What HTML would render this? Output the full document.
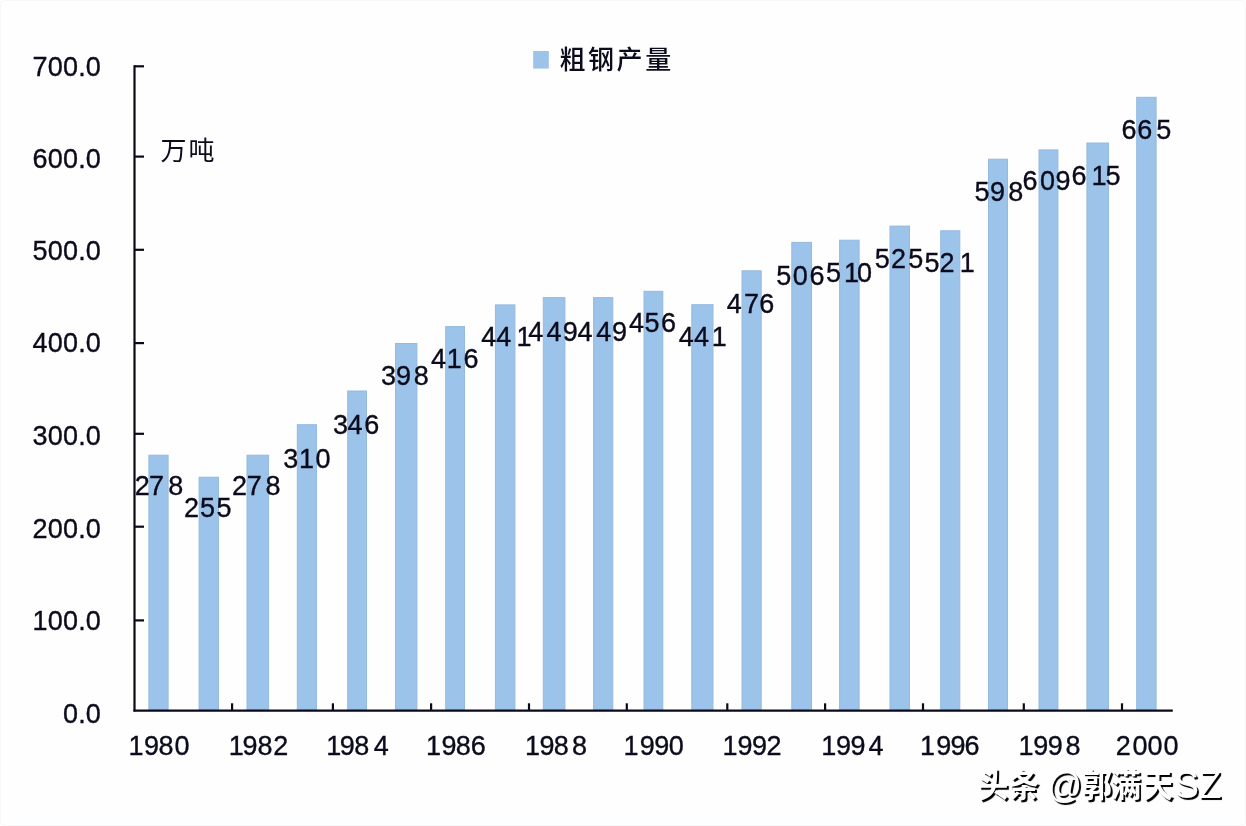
<!DOCTYPE html>
<html lang="zh-CN">
<head>
<meta charset="utf-8">
<title>粗钢产量</title>
<style>
html,body{margin:0;padding:0;background:#fff;}
body{width:1246px;height:826px;overflow:hidden;}
svg{display:block;}
text{font-family:"Liberation Sans","Noto Sans CJK SC",sans-serif;fill:#0b0b1c;}
.num{font-size:27px;stroke:#0b0b1c;stroke-width:0.35px;}
.cjk{font-family:"Liberation Sans","Noto Sans CJK SC",sans-serif;font-weight:300;}
</style>
</head>
<body>
<svg width="1246" height="826" viewBox="0 0 1246 826">
<rect x="0" y="0" width="1246" height="826" fill="#fefefe"/>
<rect x="0.5" y="0.5" width="1245" height="825" rx="4" fill="none" stroke="#f6f7f8" stroke-width="1"/>

<g fill="#9cc3ea" stroke="#95badf" stroke-width="1">
<rect x="148.9" y="455.2" width="19.2" height="254.9"/>
<rect x="199.1" y="477.2" width="19.4" height="232.9"/>
<rect x="247.0" y="455.2" width="21.6" height="254.9"/>
<rect x="297.3" y="424.7" width="19.2" height="285.4"/>
<rect x="347.7" y="391.0" width="18.8" height="319.1"/>
<rect x="395.5" y="343.5" width="21.4" height="366.6"/>
<rect x="445.7" y="326.6" width="18.8" height="383.5"/>
<rect x="495.4" y="304.9" width="19.5" height="405.2"/>
<rect x="543.3" y="297.6" width="21.6" height="412.5"/>
<rect x="593.6" y="297.6" width="19.2" height="412.5"/>
<rect x="644.0" y="291.3" width="18.8" height="418.8"/>
<rect x="691.8" y="304.7" width="21.2" height="405.4"/>
<rect x="742.0" y="270.8" width="19.2" height="439.3"/>
<rect x="791.8" y="242.4" width="19.7" height="467.7"/>
<rect x="839.6" y="240.2" width="19.5" height="469.9"/>
<rect x="890.0" y="226.1" width="19.5" height="484.0"/>
<rect x="940.7" y="230.8" width="19.1" height="479.3"/>
<rect x="988.5" y="159.2" width="19.0" height="550.9"/>
<rect x="1039.0" y="149.9" width="18.9" height="560.2"/>
<rect x="1086.9" y="143.0" width="21.6" height="567.1"/>
<rect x="1136.7" y="97.3" width="19.4" height="612.8"/>
</g>
<g stroke="#0a0a1a" stroke-width="2.2" fill="none" stroke-linecap="butt">
<path d="M134.5 65.3 V711.6"/>
<path d="M133.5 710.6 H1172.8"/>
<path d="M134 66.3 H144"/>
<path d="M134 156.6 H144"/>
<path d="M134 249.8 H144"/>
<path d="M134 343.1 H144"/>
<path d="M134 433.8 H144"/>
<path d="M134 526.7 H144"/>
<path d="M134 620.4 H144"/>
<path d="M232.1 703.3 V711"/>
<path d="M332.9 703.3 V711"/>
<path d="M431.1 703.3 V711"/>
<path d="M529.0 703.3 V711"/>
<path d="M626.8 703.3 V711"/>
<path d="M727.3 703.3 V711"/>
<path d="M825.1 703.3 V711"/>
<path d="M923.0 703.3 V711"/>
<path d="M1023.8 703.3 V711"/>
<path d="M1122.0 703.3 V711"/>
</g>
<g class="num" text-anchor="end">
<text x="101.1" y="75.6" letter-spacing="0.2">700.0</text>
<text x="101.1" y="168.3" letter-spacing="0.2">600.0</text>
<text x="101.1" y="260.1" letter-spacing="0.2">500.0</text>
<text x="101.1" y="351.5" letter-spacing="0.2">400.0</text>
<text x="101.1" y="445.1" letter-spacing="0.2">300.0</text>
<text x="101.1" y="537.7" letter-spacing="0.2">200.0</text>
<text x="101.1" y="629.6" letter-spacing="0.2">100.0</text>
<text x="101.1" y="723.0" letter-spacing="0.2">0.0</text>
</g>
<g class="num">
<text x="128.6 144.1 158.4 174.4" y="755.2">1980</text>
<text x="228.8 242.4 257.5 273.2" y="755.2">1982</text>
<text x="326.2 339.7 354.3 373.7" y="755.2">1984</text>
<text x="425.9 441.4 455.7 470.8" y="755.2">1986</text>
<text x="525.1 539.5 553.7 571.9" y="755.2">1988</text>
<text x="623.6 639.7 654.2 668.8" y="755.2">1990</text>
<text x="722.4 737.6 752.0 766.6" y="755.2">1992</text>
<text x="821.3 835.9 850.4 868.4" y="755.2">1994</text>
<text x="920.1 936.2 950.6 964.4" y="755.2">1996</text>
<text x="1018.6 1033.3 1047.7 1065.4" y="755.2">1998</text>
<text x="1115.8 1132.4 1147.4 1163.4" y="755.2">2000</text>
</g>
<g class="num">
<text x="134.8 149.1 168.2" y="495.1">278</text>
<text x="184.0 200.0 216.5" y="517.1">255</text>
<text x="232.0 246.7 265.5" y="495.1">278</text>
<text x="283.2 298.9 315.6" y="467.7">310</text>
<text x="333.0 347.5 364.2" y="433.7">346</text>
<text x="381.0 396.0 413.8" y="385.3">398</text>
<text x="431.1 446.8 463.5" y="367.5">416</text>
<text x="481.2 496.3 516.4" y="345.5">441</text>
<text x="528.2 546.5 562.8" y="340.7">449</text>
<text x="577.5 596.3 612.0" y="340.7">449</text>
<text x="629.0 644.5 661.0" y="332.2">456</text>
<text x="678.7 693.9 711.7" y="345.5">441</text>
<text x="726.7 744.0 759.3" y="313.2">476</text>
<text x="776.3 792.8 809.4" y="285.2">506</text>
<text x="825.9 844.0 857.1" y="282.0">510</text>
<text x="874.8 891.0 908.2" y="267.9">525</text>
<text x="924.5 939.4 959.8" y="272.0">521</text>
<text x="974.6 990.1 1008.2" y="201.2">598</text>
<text x="1022.4 1039.9 1055.4" y="190.1">609</text>
<text x="1071.6 1091.6 1105.6" y="185.4">615</text>
<text x="1121.5 1137.3 1156.2" y="139.1">665</text>
</g>
<rect x="533.2" y="51" width="15.6" height="17.6" fill="#9cc3ea"/>
<text class="cjk" x="559.4" y="69.3" font-size="26" letter-spacing="2.6" style="font-weight:500">粗钢产量</text>
<text class="cjk" x="160.4" y="159.8" font-size="26" letter-spacing="2.2" style="font-weight:400">万吨</text>
<g fill="#ffffff" style="font-weight:700;text-shadow:1.9px 2px 0.7px #000;" transform="translate(0 800) scale(1 1.07) translate(0 -800)">
<text font-size="30.5" style="fill:#fff" y="797.2" x="977.8 1008.6">头条</text>
<text font-size="34" style="fill:#fff;font-weight:400" y="798.2" x="1047.6">@</text>
<text font-size="30.5" style="fill:#fff" y="797.2" x="1081.8 1110.5 1142.6">郭满天</text>
<text font-size="37" style="fill:#fff;font-weight:400" y="798.2" x="1174.2 1198.8">SZ</text>
</g>
</svg>
</body>
</html>
